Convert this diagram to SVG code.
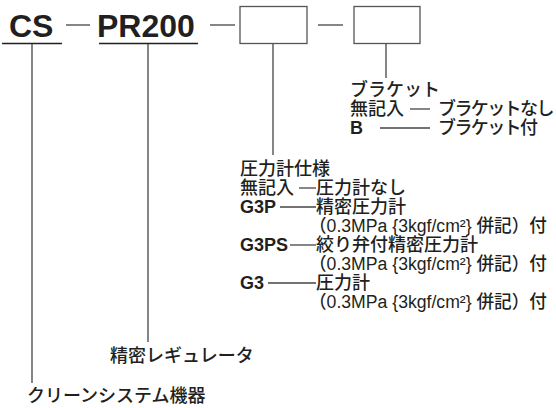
<svg xmlns="http://www.w3.org/2000/svg" width="556" height="408" viewBox="0 0 556 408">
<style>
.big{font-family:"Liberation Sans",Arial,sans-serif;font-weight:bold;font-size:32px;fill:#231f20}
.jp{font-family:"Liberation Sans","Noto Sans CJK JP",sans-serif;font-size:18px;font-weight:500;fill:#231f20}
.b{font-weight:bold}
.tight{letter-spacing:-1.6px}
.ln{stroke:#444;stroke-width:1.3;fill:none}
.bx{stroke:#555;stroke-width:1.3;fill:#fff}
.ul{stroke:#231f20;stroke-width:1.5}
</style>
<g id="code-cs">
<text class="big" x="9" y="37">CS</text>
<line class="ul" x1="2" y1="43.5" x2="62" y2="43.5"/>
</g>
<g id="code-pr200">
<text class="big" x="97" y="37">PR200</text>
<line class="ul" x1="99" y1="43.5" x2="198" y2="43.5"/>
</g>
<g id="box-gauge"><rect class="bx" x="240" y="6.5" width="67" height="37"/></g>
<g id="box-bracket"><rect class="bx" x="354" y="6.5" width="66" height="37"/></g>
<g id="connectors">
<line class="ln" x1="66" y1="25" x2="90" y2="25"/>
<line class="ln" x1="210" y1="25" x2="235" y2="25"/>
<line class="ln" x1="318" y1="25" x2="343" y2="25"/>
<line class="ln" x1="32" y1="44" x2="32" y2="383"/>
<line class="ln" x1="148" y1="44" x2="148" y2="342"/>
<line class="ln" x1="273" y1="44" x2="273" y2="155"/>
<line class="ln" x1="386" y1="44" x2="386" y2="78"/>
</g>
<g id="bracket-spec">
<text class="jp" x="350" y="96">ブラケット</text>
<text class="jp" x="350" y="115">無記入</text>
<line class="ln" x1="410" y1="109" x2="430" y2="109"/>
<text class="jp tight" x="438" y="115">ブラケットなし</text>
<text class="jp b" x="350" y="134">B</text>
<line class="ln" x1="380" y1="128" x2="430" y2="128"/>
<text class="jp tight" x="438" y="134">ブラケット付</text>
</g>
<g id="gauge-spec">
<text class="jp" x="240" y="175">圧力計仕様</text>
<text class="jp" x="240" y="194">無記入</text>
<line class="ln" x1="299" y1="188" x2="316" y2="188"/>
<text class="jp" x="316" y="194">圧力計なし</text>
<text class="jp b" x="240" y="213">G3P</text>
<line class="ln" x1="280" y1="207" x2="316" y2="207"/>
<text class="jp" x="316" y="213">精密圧力計</text>
<text class="jp" x="309" y="232" textLength="238" lengthAdjust="spacingAndGlyphs">（0.3MPa {3kgf/cm²} 併記）付</text>
<text class="jp b" x="240" y="251">G3PS</text>
<line class="ln" x1="290" y1="245" x2="316" y2="245"/>
<text class="jp" x="316" y="251">絞り弁付精密圧力計</text>
<text class="jp" x="309" y="270" textLength="238" lengthAdjust="spacingAndGlyphs">（0.3MPa {3kgf/cm²} 併記）付</text>
<text class="jp b" x="240" y="289">G3</text>
<line class="ln" x1="268" y1="283" x2="316" y2="283"/>
<text class="jp" x="316" y="289">圧力計</text>
<text class="jp" x="309" y="308" textLength="238" lengthAdjust="spacingAndGlyphs">（0.3MPa {3kgf/cm²} 併記）付</text>
</g>
<g id="label-regulator"><text class="jp" x="110" y="362">精密レギュレータ</text></g>
<g id="label-clean"><text class="jp" x="27" y="402">クリーンシステム機器</text></g>
</svg>
